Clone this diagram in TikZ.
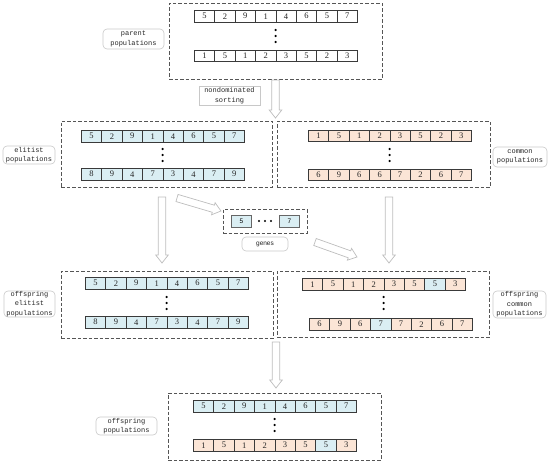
\documentclass[tikz,border=0pt]{standalone}
\usepackage{fontspec}
\setmainfont{Liberation Serif}
\newfontfamily\labfont{Liberation Mono}
\newfontfamily\genfont{Liberation Sans}
\usetikzlibrary{calc,fit}
\definecolor{cb}{HTML}{DAEEF3}
\definecolor{co}{HTML}{FBE5D6}
\definecolor{celldraw}{HTML}{3A3A3A}
\definecolor{boxdraw}{HTML}{555555}
\definecolor{labdraw}{HTML}{C8C8C8}
\definecolor{arrgray}{HTML}{BDBDBD}
\tikzset{
  cell/.style={draw=celldraw, line width=0.6pt, minimum width=20.4pt, minimum height=11.8pt, inner sep=0pt, font=\fontsize{8.5}{9}\selectfont, text=black!85},
  genecell/.style={draw=black!60, line width=1pt, fill=cb, minimum width=20pt, minimum height=12.5pt, inner sep=0pt, font=\genfont\fontsize{6.5}{7}\selectfont},
  dbox/.style={draw=boxdraw, line width=0.9pt, dash pattern=on 3.5pt off 2pt, inner sep=0pt},
  dotnode/.style={circle, fill=black, inner sep=0pt, minimum size=2.4pt},
  lab/.style={draw=labdraw, line width=0.6pt, rounded corners=4pt, align=center, inner sep=0pt, font=\labfont\fontsize{7}{9.5}\selectfont, text=black!85},
  blockarrow/.style={draw=arrgray, fill=white, line width=0.7pt, to path={
    let \p1=(\tikztostart), \p2=(\tikztotarget),
        \n1={atan2(\y2-\y1,\x2-\x1)}, \n2={veclen(\x2-\x1,\y2-\y1)-8} in
    ($(\p1)+(\n1+90:3.7pt)$) -- ($(\p1)+(\n1:\n2)+(\n1+90:3.7pt)$)
    -- ($(\p1)+(\n1:\n2)+(\n1+90:6.3pt)$) -- (\p2)
    -- ($(\p1)+(\n1:\n2)+(\n1-90:6.3pt)$) -- ($(\p1)+(\n1:\n2)+(\n1-90:3.7pt)$)
    -- ($(\p1)+(\n1-90:3.7pt)$) -- cycle}}
}
\newcommand\cellrow[4]{%
  \foreach \v/\c [count=\i] in {#4} {%
    \node[cell, fill=\c, anchor=north west] (#1-\i) at ({#2+(\i-1)*20.4},#3) {\v};}}
\newcommand\dotcol[4]{% name, x, ymid
  \node[dotnode] (#1-a) at (#2,#3-6) {};
  \node[dotnode] (#1-b) at (#2,#3) {};
  \node[dotnode] (#1-c) at (#2,#3+6) {};}
\begin{document}
\begin{tikzpicture}[x=1pt,y=-1pt]
\useasboundingbox (0,0) rectangle (550,464);

% ---------- parent ----------
\node[dbox, fit={(169,3) (382,79)}] (pbox) {};
\cellrow{p1}{194}{10}{5/white,2/white,9/white,1/white,4/white,6/white,5/white,7/white}
\cellrow{p2}{194}{49.5}{1/white,5/white,1/white,2/white,3/white,5/white,2/white,3/white}
\dotcol{pd}{275.6}{36}{}
\node[lab, minimum width=61pt, minimum height=20pt] (plab) at (133.5,39) {parent\\populations};

% ---------- sorting ----------
\node[lab, rounded corners=0pt, minimum width=61pt, minimum height=19pt] (slab) at (229.5,95.5) {nondominated\\sorting};

% ---------- elitist ----------
\node[dbox, fit={(61,121) (272,187)}] (ebox) {};
\cellrow{e1}{81}{130}{5/cb,2/cb,9/cb,1/cb,4/cb,6/cb,5/cb,7/cb}
\cellrow{e2}{81}{168}{8/cb,9/cb,4/cb,7/cb,3/cb,4/cb,7/cb,9/cb}
\dotcol{ed}{162.6}{155}{}
\node[lab, minimum width=52pt, minimum height=18pt] (elab) at (29,155) {elitist\\populations};

% ---------- common ----------
\node[dbox, fit={(277,121) (490,187)}] (cbox) {};
\cellrow{c1}{308}{129.5}{1/co,5/co,1/co,2/co,3/co,5/co,2/co,3/co}
\cellrow{c2}{308}{168.5}{6/co,9/co,6/co,6/co,7/co,2/co,6/co,7/co}
\dotcol{cd}{389.6}{155}{}
\node[lab, minimum width=54pt, minimum height=20pt] (clab) at (520,157) {common\\populations};

% ---------- genes ----------
\node[dbox, fit={(223,209) (307,233)}] (gbox) {};
\node[genecell, anchor=north west] (g1) at (231,214.5) {5};
\node[genecell, anchor=north west] (g2) at (279,214.5) {7};
\node[dotnode] (gd1) at (259,221) {};
\node[dotnode] (gd2) at (265,221) {};
\node[dotnode] (gd3) at (271,221) {};
\node[lab, minimum width=46pt, minimum height=14pt, font=\genfont\fontsize{6.5}{8}\selectfont] (glab) at (265,244) {genes};

% ---------- offspring elitist ----------
\node[dbox, fit={(61,271) (273,338)}] (oebox) {};
\cellrow{oe1}{85}{277}{5/cb,2/cb,9/cb,1/cb,4/cb,6/cb,5/cb,7/cb}
\cellrow{oe2}{85}{316}{8/cb,9/cb,4/cb,7/cb,3/cb,4/cb,7/cb,9/cb}
\dotcol{oed}{166.6}{303}{}
\node[lab, minimum width=51pt, minimum height=26pt] (oelab) at (29.5,304) {offspring\\elitist\\populations};

% ---------- offspring common ----------
\node[dbox, fit={(277,271) (489,337)}] (ocbox) {};
\cellrow{oc1}{302}{278}{1/co,5/co,1/co,2/co,3/co,5/co,5/cb,3/co}
\cellrow{oc2}{309}{318}{6/co,9/co,6/co,7/cb,7/co,2/co,6/co,7/co}
\dotcol{ocd}{383.6}{303}{}
\node[lab, minimum width=53pt, minimum height=27pt] (oclab) at (519.5,304.5) {offspring\\common\\populations};

% ---------- offspring populations ----------
\node[dbox, fit={(168,393) (381,460)}] (obox) {};
\cellrow{o1}{193}{400}{5/cb,2/cb,9/cb,1/cb,4/cb,6/cb,5/cb,7/cb}
\cellrow{o2}{193}{439}{1/co,5/co,1/co,2/co,3/co,5/co,5/cb,3/co}
\dotcol{od}{274.6}{425}{}
\node[lab, minimum width=61pt, minimum height=18pt] (olab) at (126.5,426) {offspring\\populations};

% ---------- arrows ----------
\coordinate (a1s) at (275.5,80);  \coordinate (a1e) at (275.5,118);
\coordinate (a2s) at (162,197);   \coordinate (a2e) at (162,263);
\coordinate (a3s) at (177,198);   \coordinate (a3e) at (221,211);
\coordinate (a4s) at (315,242);   \coordinate (a4e) at (357,257);
\coordinate (a5s) at (389,197);   \coordinate (a5e) at (389,263);
\coordinate (a6s) at (276,342);   \coordinate (a6e) at (276,388);
\foreach \k in {1,...,6} \draw[blockarrow] (a\k s) to (a\k e);
\end{tikzpicture}
\end{document}
